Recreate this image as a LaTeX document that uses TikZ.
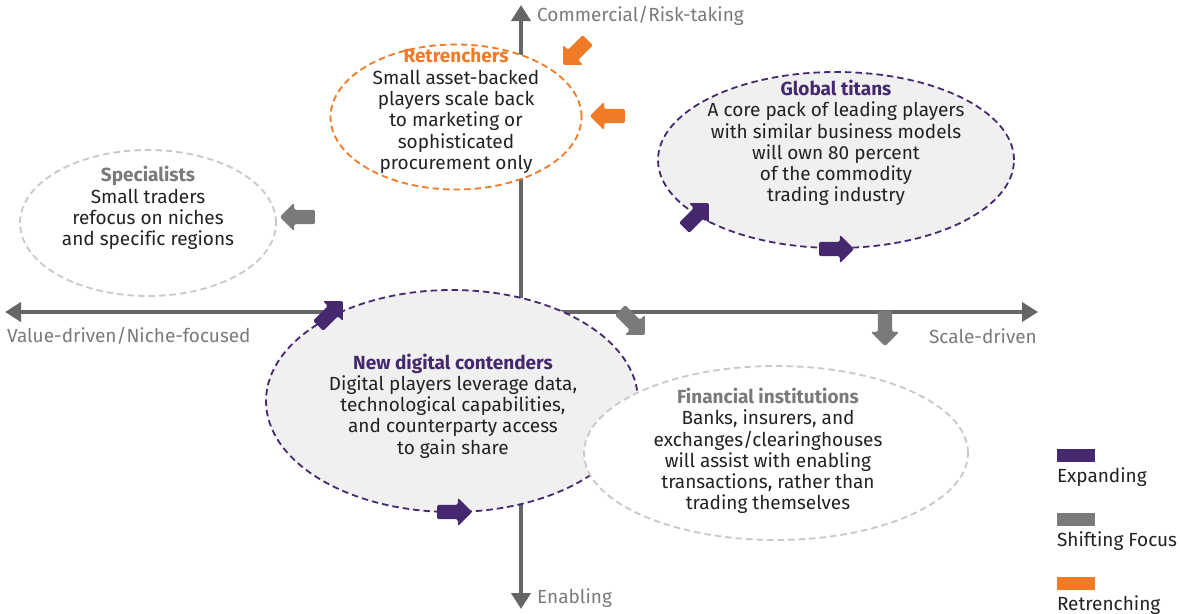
\documentclass[tikz,border=0pt]{standalone}
\usepackage{fontspec}
\setmainfont{Fira Sans}[Ligatures=NoCommon]
\usepackage{tikz}
\usetikzlibrary{positioning, shapes.geometric, shapes.arrows, arrows.meta}
\definecolor{mckpurple}{HTML}{46286E}
\definecolor{mckorange}{HTML}{F07A26}
\definecolor{mckgrey}{HTML}{7A7A7A}
\definecolor{axisgrey}{HTML}{666666}
\definecolor{ringgrey}{HTML}{C8C8C8}
\definecolor{fillgrey}{HTML}{F0F0F0}
\definecolor{txtdark}{HTML}{222222}
\tikzset{
  axis/.style={line width=4pt, axisgrey, -{Triangle[length=16pt,width=19pt]}},
  axlabel/.style={text=mckgrey, font=\fontsize{19}{21}\selectfont, inner sep=0pt},
  group/.style={ellipse, line width=1.8pt, dash pattern=on 6.5pt off 4pt},
  bodytxt/.style={text=txtdark, align=center, inner sep=0pt, font=\fontsize{19}{21.3}\selectfont},
  blockarr/.style={single arrow, draw=none, minimum height=35pt, single arrow head extend=7pt, inner sep=7pt, rounded corners=1.5pt},
  legendbox/.style={minimum width=38pt, minimum height=13pt, inner sep=0pt},
  legtxt/.style={text=txtdark, inner sep=0pt, font=\fontsize{19}{21}\selectfont}
}

\begin{document}
\begin{tikzpicture}[x=1pt, y=-1pt]
  \useasboundingbox (0,0) rectangle (1180,613);

  % axes
  \coordinate (o) at (521,312);
  \coordinate (ntop) at (521,5);
  \coordinate (nbot) at (521,609);
  \coordinate (nleft) at (5,312);
  \coordinate (nright) at (1038,312);
  \draw[axis] (o) -- (ntop);
  \draw[axis] (o) -- (nbot);
  \draw[axis] (o) -- (nleft);
  \draw[axis] (o) -- (nright);

  \node[axlabel, anchor=west] (lblcomm) at (537,16) {Commercial/Risk-taking};
  \node[axlabel, anchor=west] (lblenab) at (537,598) {Enabling};
  \node[axlabel, anchor=west] (lblvalue) at (7,336) {Value-driven/Niche-focused};
  \node[axlabel, anchor=east] (lblscale) at (1037,336) {Scale-driven};

  % groups
  \node[group, draw=mckorange, fill=white, minimum width=251pt, minimum height=145pt] (retrench) at (456,117) {};
  \node[group, draw=mckpurple, fill=fillgrey, minimum width=356pt, minimum height=176pt] (titans) at (836,160) {};
  \node[group, draw=ringgrey, fill=white, minimum width=256pt, minimum height=146pt] (special) at (148,223) {};
  \node[group, draw=mckpurple, fill=fillgrey, minimum width=372pt, minimum height=222pt] (digital) at (452,401) {};
  \node[group, draw=ringgrey, fill=white, minimum width=384pt, minimum height=174pt] (financial) at (776,453) {};

  \node[bodytxt] (retrenchtxt) at (456,111) {\textcolor{mckorange}{\bfseries Retrenchers}\\Small asset-backed\\players scale back\\to marketing or\\sophisticated\\procurement only};
  \node[bodytxt] (titanstxt) at (836,143) {\textcolor{mckpurple}{\bfseries Global titans}\\A core pack of leading players\\with similar business models\\will own 80 percent\\of the commodity\\trading industry};
  \node[bodytxt] (specialtxt) at (148,208) {\textcolor{mckgrey}{\bfseries Specialists}\\Small traders\\refocus on niches\\and specific regions};
  \node[bodytxt] (digitaltxt) at (453,406) {\textcolor{mckpurple}{\bfseries New digital contenders}\\Digital players leverage data,\\technological capabilities,\\and counterparty access\\to gain share};
  \node[bodytxt] (financialtxt) at (768,451) {\textcolor{mckgrey}{\bfseries Financial institutions}\\Banks, insurers, and\\exchanges/clearinghouses\\will assist with enabling\\transactions, rather than\\trading themselves};

  % movement arrows
  \node[blockarr, fill=mckorange, rotate=225] (retrarrA) at (578,50) {};
  \node[blockarr, fill=mckorange, rotate=180] (retrarrB) at (611,116) {};
  \node[blockarr, fill=mckgrey, rotate=180] (shiftarrA) at (301,217) {};
  \node[blockarr, fill=mckgrey, rotate=-45] (shiftarrB) at (630,320) {};
  \node[blockarr, fill=mckgrey, rotate=-90] (shiftarrC) at (885,325) {};
  \node[blockarr, fill=mckpurple, rotate=45] (exparrA) at (694,218) {};
  \node[blockarr, fill=mckpurple] (exparrB) at (833,249) {};
  \node[blockarr, fill=mckpurple, rotate=45] (exparrC) at (328,316) {};
  \node[blockarr, fill=mckpurple] (exparrD) at (451,512) {};

  % legend
  \node[legendbox, fill=mckpurple] (legexp) at (1076,455.5) {};
  \node[legtxt, below=5pt of legexp.south west, anchor=north west] (legexptxt) {Expanding};
  \node[legendbox, fill=mckgrey] (legshift) at (1076,519.5) {};
  \node[legtxt, below=5pt of legshift.south west, anchor=north west] (legshifttxt) {Shifting Focus};
  \node[legendbox, fill=mckorange] (legretr) at (1076,583.5) {};
  \node[legtxt, below=5pt of legretr.south west, anchor=north west] (legretrtxt) {Retrenching};
\end{tikzpicture}
\end{document}
